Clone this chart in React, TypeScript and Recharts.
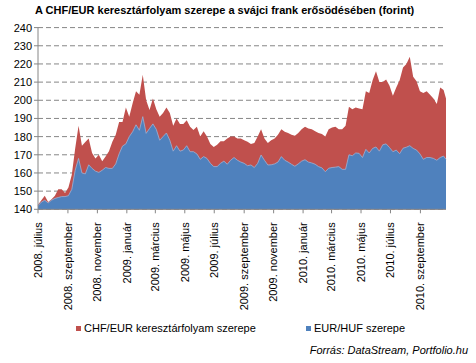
import React from "react";
import { AreaChart, Area, XAxis, YAxis, CartesianGrid } from "recharts";

// weekly observations from 2008. július 1. (day 0)
const chfHuf = [
  142.5, 145, 147.5, 144, 145.5, 147.5, 151, 151, 149, 152,
  159, 173.5, 186, 175, 177, 179, 171, 168, 170, 166.5,
  169, 172, 177.2, 181, 188, 188, 196, 191, 198.3, 205,
  203, 214, 200, 194.7, 201, 195, 191, 193, 196, 193,
  186, 190, 187, 187, 189, 185.5, 183.6, 185.5, 180, 183,
  180, 176, 174.3, 175.5, 177.5, 177.5, 179, 180, 180, 179,
  179, 178, 177.2, 176, 176.5, 180, 184, 179, 176.5, 178,
  179, 181, 184, 182.7, 182, 181, 180.5, 182, 184, 185.5,
  184.5, 184, 183, 182, 181.5, 180, 184, 185, 185.5, 184,
  184, 186, 196.5, 195, 196, 195.5, 195, 205, 204, 211,
  216, 210, 210, 211.5, 208, 202.5, 207, 211, 218, 220,
  224, 213, 210.5, 205, 204, 205, 203, 201, 198, 207,
  205.6, 201,
];

const eurHufPart = [
  142, 144, 145, 143.5, 145, 146, 146.5, 147, 147, 147.5,
  151, 161.5, 168, 160, 159.5, 164.5, 162.5, 161, 160.3, 161.5,
  163, 162.5, 162.5, 165, 170.5, 174.8, 176, 180, 182.7, 186.5,
  183.5, 191, 181.8, 184.5, 187, 184, 178, 180, 182, 178,
  172, 175, 172, 172.6, 175, 171.7, 171.7, 170.5, 167.5, 169,
  168, 165.3, 163.5, 163.5, 165.3, 166.5, 164.8, 167, 168.5, 167,
  166, 165.3, 164, 164.4, 163, 165.3, 169.9, 167, 164.4, 164.5,
  165, 166, 169, 167, 166, 164.8, 163.7, 165, 166.5, 167.3,
  166, 165.5, 164.8, 163.5, 162.8, 160.7, 162.6, 163, 163.2, 163.5,
  162, 162, 170, 169.5, 171, 170.8, 168.5, 173, 171, 173.5,
  174.3, 172, 175.5, 176, 174, 171.7, 172.6, 170.6, 173.6, 174.2,
  175, 173.5, 172.6, 170.5, 167.5, 168.5, 168.5, 168, 167, 168.5,
  169.3, 167.5,
];

const tickDays = [0, 62, 123, 184, 243, 304, 365, 427, 488, 549, 608, 669, 730, 792];
const tickLabels = [
  "2008. július", "2008. szeptember", "2008. november",
  "2009. január", "2009. március", "2009. május", "2009. július",
  "2009. szeptember", "2009. november",
  "2010. január", "2010. március", "2010. május", "2010. július",
  "2010. szeptember",
];
const yTicks = [140, 150, 160, 170, 180, 190, 200, 210, 220, 230, 240];

const lastDay = 845;
const data = chfHuf.map((v, i) => ({
  day: i < chfHuf.length - 1 ? i * 7 : lastDay,
  chf: v,
  eur: eurHufPart[i],
}));

const FONT = "Arial, 'Liberation Sans', sans-serif";
const RED = "#C0504D";
const BLUE = "#4F81BD";
const GREY = "#868686";

const DateTick = (props: any) => {
  const { x, y, payload } = props;
  const idx = tickDays.indexOf(payload.value);
  return (
    <text
      x={x}
      y={y + 7}
      dy="0.35em"
      transform={`rotate(-90, ${x}, ${y + 7})`}
      textAnchor="end"
      fontSize={11}
      fontFamily={FONT}
      fill="#000"
    >
      {tickLabels[idx]}
    </text>
  );
};

export default function App() {
  return (
    <div style={{ position: "fixed", left: 0, top: 0, width: 476, height: 363, background: "#fff", fontFamily: FONT }}>
      <div style={{ position: "absolute", left: 35, top: 4, fontSize: 11, fontWeight: "bold", whiteSpace: "nowrap" }}>
        A CHF/EUR keresztárfolyam szerepe a svájci frank erősödésében (forint)
      </div>
      <AreaChart
        width={476}
        height={363}
        data={data}
        margin={{ top: 27.6, right: 30, left: 0, bottom: 53.7 }}
      >
        <CartesianGrid vertical={false} stroke={GREY} strokeDasharray="5 3" />
        <XAxis
          dataKey="day"
          type="number"
          domain={[0, lastDay]}
          ticks={tickDays}
          interval={0}
          height={100}
          tick={<DateTick />}
          tickSize={4}
          stroke={GREY}
        />
        <YAxis
          domain={[140, 240]}
          ticks={yTicks}
          interval={0}
          width={38}
          tickSize={4}
          stroke={GREY}
          tick={{ fill: "#000", fontSize: 11, fontFamily: FONT }}
        />
        <Area
          type="linear"
          dataKey="chf"
          stroke="none"
          fill={RED}
          fillOpacity={1}
          isAnimationActive={false}
        />
        <Area
          type="linear"
          dataKey="eur"
          stroke="#9DB3D5"
          strokeWidth={0.8}
          fill={BLUE}
          fillOpacity={1}
          isAnimationActive={false}
        />
      </AreaChart>
      <div style={{ position: "absolute", left: 76, top: 322, fontSize: 11, display: "flex", alignItems: "center", whiteSpace: "nowrap" }}>
        <span style={{ width: 5, height: 5, background: RED, marginRight: 3, display: "inline-block" }} />
        CHF/EUR keresztárfolyam szerepe
      </div>
      <div style={{ position: "absolute", left: 306, top: 322, fontSize: 11, display: "flex", alignItems: "center", whiteSpace: "nowrap" }}>
        <span style={{ width: 5, height: 5, background: BLUE, marginRight: 3, display: "inline-block" }} />
        EUR/HUF szerepe
      </div>
      <div style={{ position: "absolute", right: 8, top: 344, fontSize: 11, fontStyle: "italic", whiteSpace: "nowrap" }}>
        Forrás: DataStream, Portfolio.hu
      </div>
    </div>
  );
}
